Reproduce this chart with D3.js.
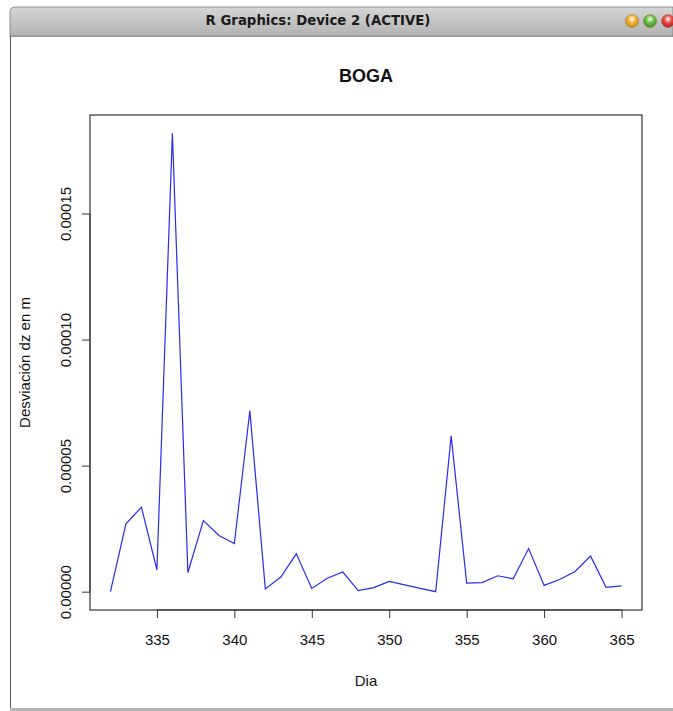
<!DOCTYPE html>
<html>
<head>
<meta charset="utf-8">
<script src="https://cdn.jsdelivr.net/npm/d3@7"></script>
<style>
  html, body { margin: 0; padding: 0; background: #ffffff; }
  svg { display: block; }
  text { font-family: "Liberation Sans", Arial, Helvetica, sans-serif; }
</style>
</head>
<body>
<svg id="chart" width="673" height="711"></svg>
<script>
// Daily dz deviation (m) for station BOGA, days 332–365
const days = [332,333,334,335,336,337,338,339,340,341,342,343,344,345,346,347,348,
              349,350,351,352,353,354,355,356,357,358,359,360,361,362,363,364,365];
const dz = [0.0000000, 0.0000269, 0.0000335, 0.0000087, 0.0001818, 0.0000076, 0.0000282,
            0.0000223, 0.0000191, 0.0000717, 0.0000011, 0.0000058, 0.0000150, 0.0000013,
            0.0000053, 0.0000078, 0.0000004, 0.0000016, 0.0000041, 0.0000027, 0.0000013,
            0.0000000, 0.0000618, 0.0000034, 0.0000036, 0.0000063, 0.0000051, 0.0000171,
            0.0000025, 0.0000048, 0.0000080, 0.0000141, 0.0000017, 0.0000023];
const xTicks = [335, 340, 345, 350, 355, 360, 365];
const yTicks = [0, 0.00005, 0.00010, 0.00015];

const svg = d3.select("#chart");

// ---- window frame ----
const defs = svg.append("defs");
const grad = defs.append("linearGradient").attr("id", "bar").attr("x1", 0).attr("x2", 0).attr("y1", 0).attr("y2", 1);
grad.append("stop").attr("offset", "0%").attr("stop-color", "#d6d6d6");
grad.append("stop").attr("offset", "100%").attr("stop-color", "#b2b2b2");

svg.append("path")
  .attr("d", "M10,36 L10,12 Q10,7 15,7 L673,7 L673,36 Z")
  .attr("fill", "url(#bar)")
  .attr("stroke", "#7a7a7a").attr("stroke-width", 0.8);
svg.append("line").attr("x1", 10).attr("x2", 673).attr("y1", 36.5).attr("y2", 36.5)
  .attr("stroke", "#9a9a9a");
svg.append("text").attr("x", 318).attr("y", 25).attr("text-anchor", "middle")
  .attr("font-size", 13.3).attr("font-weight", "bold").attr("fill", "#1a1a1a")
  .style("font-family", "'DejaVu Sans', sans-serif")
  .text("R Graphics: Device 2 (ACTIVE)");

// traffic-light buttons
[["#f4b43a", "#c98a10", 632], ["#6cc24a", "#3d8a25", 650], ["#ef4a4a", "#b01e1e", 668]].forEach(([c, s, cx]) => {
  const g = defs.append("radialGradient").attr("id", "b" + cx).attr("cx", "50%").attr("cy", "35%").attr("r", "65%");
  g.append("stop").attr("offset", "0%").attr("stop-color", "#ffffff").attr("stop-opacity", 0.9);
  g.append("stop").attr("offset", "45%").attr("stop-color", c);
  g.append("stop").attr("offset", "100%").attr("stop-color", s);
  svg.append("circle").attr("cx", cx).attr("cy", 21).attr("r", 6.5)
    .attr("fill", `url(#b${cx})`).attr("stroke", "#8a6a30").attr("stroke-width", 0.5);
});

// left and bottom borders
svg.append("line").attr("x1", 10.5).attr("x2", 10.5).attr("y1", 36).attr("y2", 709)
  .attr("stroke", "#555").attr("stroke-width", 1);
svg.append("rect").attr("x", 10).attr("y", 708).attr("width", 663).attr("height", 3)
  .attr("fill", "#b5b5b5");

// ---- plot region ----
const plot = { left: 90, right: 642, top: 115, bottom: 610 };

// R-style 4% domain padding
const xr = d3.extent(days), yr = d3.extent(dz);
const xp = (xr[1] - xr[0]) * 0.04, yp = (yr[1] - yr[0]) * 0.04;
const x = d3.scaleLinear().domain([xr[0] - xp, xr[1] + xp]).range([plot.left, plot.right]);
const y = d3.scaleLinear().domain([yr[0] - yp, yr[1] + yp]).range([plot.bottom, plot.top]);

// series line
svg.append("path")
  .datum(days.map((d, i) => [d, dz[i]]))
  .attr("fill", "none")
  .attr("stroke", "#2a2af0")
  .attr("stroke-width", 1.2)
  .attr("stroke-linejoin", "miter")
  .attr("d", d3.line().x(d => x(d[0])).y(d => y(d[1])));

// box
svg.append("rect")
  .attr("x", plot.left).attr("y", plot.top)
  .attr("width", plot.right - plot.left).attr("height", plot.bottom - plot.top)
  .attr("fill", "none").attr("stroke", "#333").attr("stroke-width", 1.2);

// x axis
const xAxis = svg.append("g").attr("transform", `translate(0,${plot.bottom})`)
  .call(d3.axisBottom(x).tickValues(xTicks).tickSize(8).tickPadding(16).tickFormat(d3.format("d")));
xAxis.select(".domain").attr("d", `M${x(xTicks[0])},0H${x(xTicks[xTicks.length - 1])}`).attr("stroke", "#333");
xAxis.selectAll(".tick line").attr("stroke", "#333");
xAxis.selectAll("text").attr("font-size", 15).attr("fill", "#111")
  .style("font-family", "'Liberation Sans', Arial, sans-serif");

// y axis with rotated labels
const yAxis = svg.append("g").attr("transform", `translate(${plot.left},0)`)
  .call(d3.axisLeft(y).tickValues(yTicks).tickSize(8).tickFormat(d3.format(".5f")));
yAxis.select(".domain").attr("d", `M0,${y(yTicks[0])}V${y(yTicks[yTicks.length - 1])}`).attr("stroke", "#333");
yAxis.selectAll(".tick line").attr("stroke", "#333");
yAxis.selectAll("text")
  .attr("font-size", 15).attr("fill", "#111")
  .attr("x", 0).attr("dy", 0)
  .attr("text-anchor", "middle")
  .attr("transform", "translate(-19,0) rotate(-90)")
  .style("font-family", "'Liberation Sans', Arial, sans-serif");

// titles
svg.append("text").attr("x", (plot.left + plot.right) / 2).attr("y", 82)
  .attr("text-anchor", "middle").attr("font-size", 18).attr("font-weight", "bold")
  .attr("fill", "#111").text("BOGA");
svg.append("text").attr("x", (plot.left + plot.right) / 2).attr("y", 686)
  .attr("text-anchor", "middle").attr("font-size", 15).attr("fill", "#111").text("Dia");
svg.append("text")
  .attr("transform", `translate(30,${(plot.top + plot.bottom) / 2}) rotate(-90)`)
  .attr("text-anchor", "middle").attr("font-size", 15).attr("fill", "#111")
  .text("Desviación dz en m");
</script>
</body>
</html>
